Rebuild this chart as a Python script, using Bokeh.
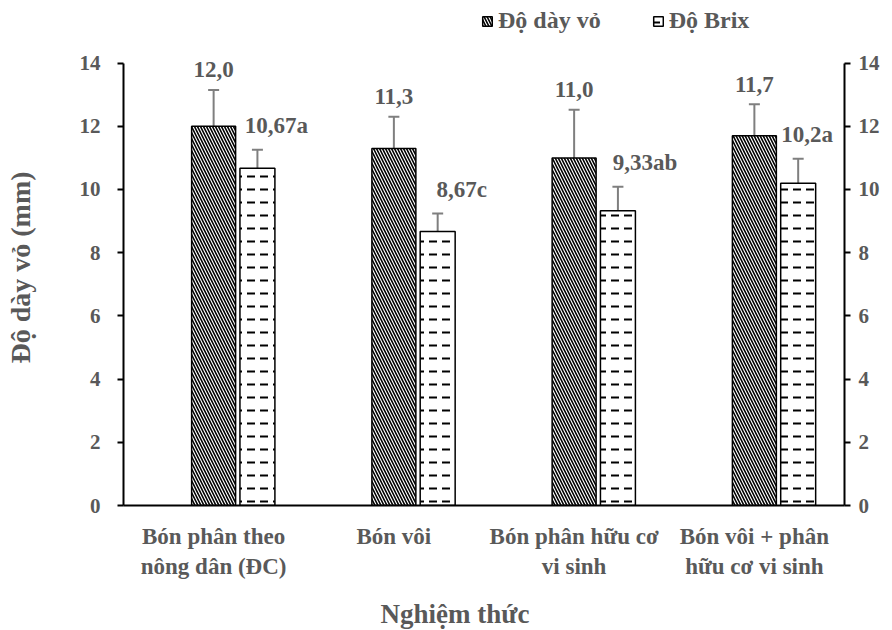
from bokeh.plotting import figure
from bokeh.models import (ColumnDataSource, LinearAxis, Range1d, FixedTicker, Whisker,
                          TeeHead, Legend, LegendItem, Title)
from bokeh.core.properties import value
from bokeh.embed import file_html
from bokeh.resources import INLINE

# ---- data ----
categories = ["Bón phân theo\nnông dân (ĐC)", "Bón vôi",
              "Bón phân hữu cơ\nvi sinh", "Bón vôi + phân\nhữu cơ vi sinh"]
thickness = [12.0, 11.3, 11.0, 11.7]
thickness_err = [1.15, 1.0, 1.52, 1.0]
thickness_labels = ["12,0", "11,3", "11,0", "11,7"]
brix = [10.67, 8.67, 9.33, 10.2]
brix_err = [0.59, 0.57, 0.76, 0.77]
brix_labels = ["10,67a", "8,67c", "9,33ab", "10,2a"]
y_ticks = [0, 2, 4, 6, 8, 10, 12, 14]

# ---- style ----
FONT = "Liberation Serif"
TXT = "#595959"
ERR = "#7f7f7f"
brix_label_dx = [19, 24, 27, 9]   # px shift of the Brix value labels

centers = [i + 0.5 for i in range(len(categories))]
x1 = centers
x2 = [c + 0.243 for c in centers]

src1 = ColumnDataSource(dict(x=x1, top=thickness,
                             upper=[v + e for v, e in zip(thickness, thickness_err)],
                             lower=[v - e for v, e in zip(thickness, thickness_err)],
                             lab=thickness_labels))
src2 = ColumnDataSource(dict(x=x2, top=brix,
                             upper=[v + e for v, e in zip(brix, brix_err)],
                             lower=[v - e for v, e in zip(brix, brix_err)],
                             lab=brix_labels, dx=brix_label_dx))

p = figure(frame_width=721, frame_height=505, output_backend="svg", toolbar_location=None,
           x_range=Range1d(0, len(categories)), y_range=Range1d(0, 15.98),
           min_border_left=123, min_border_right=48, min_border_top=0, min_border_bottom=125)
p.outline_line_color = None
p.xgrid.visible = False
p.ygrid.visible = False
p.background_fill_color = "white"

r1 = p.vbar(x="x", top="top", width=0.244, source=src1, fill_color="white",
            line_color="black", line_width=1.5, hatch_pattern="\\", hatch_color="black",
            hatch_scale=6, hatch_weight=1.6)
r2 = p.vbar(x="x", top="top", width=0.194, source=src2, fill_color="white",
            line_color="black", line_width=1.5, hatch_pattern="horizontal_dash",
            hatch_color="black", hatch_scale=13, hatch_weight=2)

for s in (src1, src2):
    w = Whisker(source=s, base="x", upper="upper", lower="lower",
                line_color=ERR, line_width=2,
                upper_head=TeeHead(size=11, line_color=ERR, line_width=2),
                lower_head=TeeHead(size=11, line_color=ERR, line_width=2))
    p.add_layout(w)

p.text(x="x", y="upper", text="lab", source=src1, text_font=value(FONT),
       text_font_style="bold", text_font_size="23px", text_color=TXT,
       text_align="center", text_baseline="middle", y_offset=-20)
p.text(x="x", y="upper", text="lab", source=src2, text_font=value(FONT),
       text_font_style="bold", text_font_size="23px", text_color=TXT,
       text_align="center", text_baseline="middle", y_offset=-24, x_offset="dx")

def style_axis(ax):
    ax.axis_line_color = "black"
    ax.axis_line_width = 2
    ax.major_tick_line_color = "black"
    ax.major_tick_line_width = 2
    ax.minor_tick_line_color = None
    ax.major_label_text_font = FONT
    ax.major_label_text_font_style = "bold"
    ax.major_label_text_font_size = "21px"
    ax.major_label_text_color = TXT

# left y axis
ya = p.yaxis[0]
style_axis(ya)
ya.ticker = FixedTicker(ticks=y_ticks)
ya.bounds = (0, 14)
ya.major_tick_in = 0
ya.major_tick_out = 6
ya.major_label_standoff = 17

yt = Title(text="Độ dày vỏ (mm)\n ", align="left", offset=142, standoff=0,
           vertical_align="bottom", text_line_height=1.3,
           text_font=FONT, text_font_style="bold", text_font_size="28px",
           text_color=TXT)
p.add_layout(yt, "left")

# right y axis
ra = LinearAxis(ticker=FixedTicker(ticks=y_ticks))
style_axis(ra)
ra.bounds = (0, 14)
ra.major_tick_in = 0
ra.major_tick_out = 6
ra.major_label_standoff = 8
p.add_layout(ra, "right")

# x axis
xa = p.xaxis[0]
style_axis(xa)
xa.ticker = FixedTicker(ticks=centers)
xa.major_label_overrides = {c: lab for c, lab in zip(centers, categories)}
xa.major_tick_line_color = None
xa.major_tick_in = 0
xa.major_tick_out = 0
xa.major_label_standoff = 18
xa.major_label_text_font_size = "23px"

xt = Title(text="Nghiệm thức", align="left", offset=257, standoff=31,
           text_font=FONT, text_font_style="bold", text_font_size="27px",
           text_color=TXT)
p.add_layout(xt, "below")

legend = Legend(items=[LegendItem(label="Độ dày vỏ", renderers=[r1]),
                       LegendItem(label="Độ Brix", renderers=[r2])],
                orientation="horizontal", location=(358, 471),
                glyph_width=12, glyph_height=12, spacing=51, padding=0, margin=0,
                label_standoff=5, border_line_color=None, background_fill_alpha=0,
                label_text_font=FONT, label_text_font_style="bold",
                label_text_font_size="24px", label_text_color=TXT)
p.add_layout(legend, "center")

open("out.html", "w").write(file_html(p, INLINE))
